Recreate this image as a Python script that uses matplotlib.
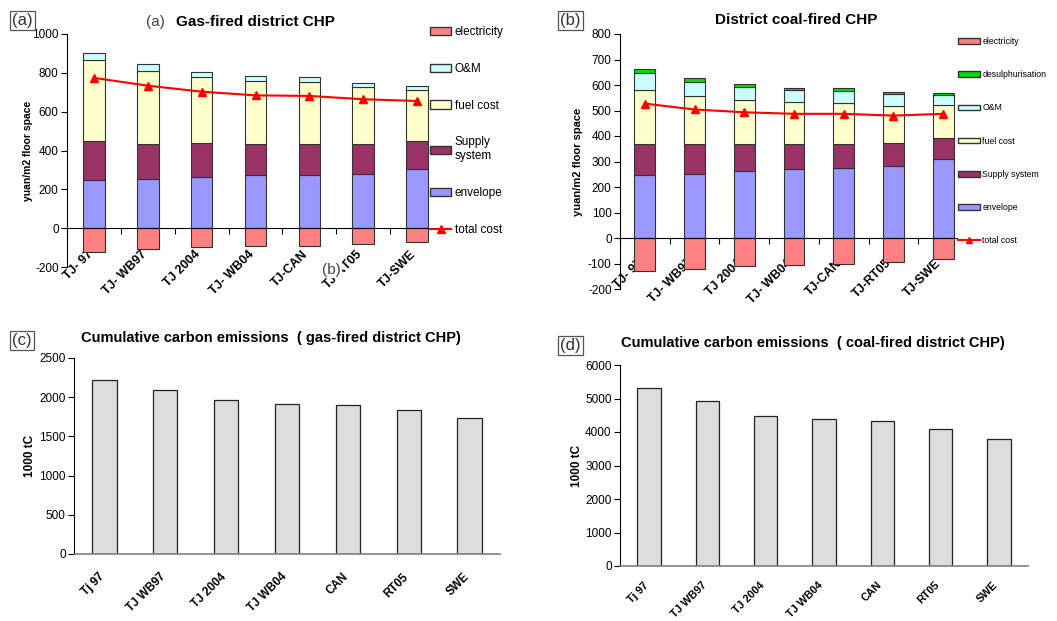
import numpy as np
import matplotlib
matplotlib.use("Agg")
import matplotlib.pyplot as plt
from matplotlib.patches import Patch
from matplotlib.lines import Line2D
from matplotlib.transforms import ScaledTranslation

plt.rcParams['font.family'] = ['Liberation Sans', 'DejaVu Sans']
plt.rcParams['axes.unicode_minus'] = False

# --- data --- #

cases_a = ["TJ- 97", "TJ- WB97", "TJ 2004", "TJ- WB04", "TJ-CAN", "TJ-RT05", "TJ-SWE"]
envelope_a = [250, 253, 262, 272, 272, 281, 307]
supply_a = [198, 183, 178, 162, 162, 153, 141]
fuel_a = [416, 374, 336, 325, 319, 292, 266]
om_a = [38, 33, 27, 25, 25, 24, 19]
electricity_a = [-121, -107, -95, -91, -91, -81, -72]
total_a = [774, 734, 703, 684, 681, 664, 655]

cases_b = ["TJ- 97", "TJ- WB97", "TJ 2004", "TJ- WB04", "TJ-CAN", "TJ-RT05", "TJ-SWE"]
envelope_b = [249, 252, 261, 269, 273, 281, 308]
supply_b = [121, 115, 109, 101, 97, 93, 84]
fuel_b = [211, 188, 173, 165, 161, 145, 131]
om_b = [66, 56, 48, 46, 45, 44, 38]
desulph_b = [14, 15, 11, 9, 12, 11, 9]
electricity_b = [-131, -121, -108, -105, -101, -93, -81]
total_b = [527, 504, 493, 487, 487, 480, 487]

cases_cd = ["Tj 97", "TJ WB97", "TJ 2004", "TJ WB04", "CAN", "RT05", "SWE"]
carbon_gas = [2223, 2087, 1963, 1912, 1900, 1831, 1729]
carbon_coal = [5324, 4917, 4490, 4381, 4321, 4083, 3795]

C_ENV = "#9999FF"
C_SUP = "#993366"
C_FUEL = "#FFFFCC"
C_OM = "#CCFFFF"
C_DES = "#00DD00"
C_ELEC = "#FF8080"
C_TOT = "#FF0000"
C_GREY = "#DDDDDD"

W, H = 1057, 621
fig = plt.figure(figsize=(W / 100, H / 100), dpi=100)


def px_axes(left, top, right, bottom):
    return fig.add_axes([left / W, 1 - bottom / H, (right - left) / W, (bottom - top) / H])


def shift_labels(ax, dx, dy):
    off = ScaledTranslation(dx / 100, dy / 100, fig.dpi_scale_trans)
    for lab in ax.get_xticklabels():
        lab.set_transform(lab.get_transform() + off)


def setup_cat_axis(ax, labels, size, dx, dy, boundary_ticks):
    x = np.arange(len(labels))
    ax.set_xlim(-0.5, len(labels) - 0.5)
    ax.set_xticks(x)
    ax.set_xticklabels(labels, rotation=45, ha="right", va="top",
                       rotation_mode="anchor", fontsize=size, fontweight="bold")
    ax.tick_params(axis="x", which="major", length=0, pad=0)
    if boundary_ticks:
        ax.set_xticks(np.arange(-0.5, len(labels), 1), minor=True)
        ax.tick_params(axis="x", which="minor", length=4, direction="out", width=0.8)
    shift_labels(ax, dx, dy)
    ax.spines["top"].set_visible(False)
    ax.spines["right"].set_visible(False)
    ax.tick_params(axis="y", length=4, width=0.8, labelsize=8.5, pad=2)


def stacked(ax, parts, colors, width):
    x = np.arange(len(parts[0]))
    bottom = np.zeros(len(x))
    for vals, col in zip(parts, colors):
        ax.bar(x, vals, width, bottom=bottom, color=col, edgecolor="#333333",
               linewidth=0.8, zorder=2)
        bottom = bottom + np.array(vals)


def box_label(x, y, s):
    fig.text(x / W, 1 - y / H, s, fontsize=12, ha="left", va="top", color="#333333",
             family=["Liberation Sans Narrow", "Liberation Sans", "DejaVu Sans"],
             bbox=dict(boxstyle="square,pad=0.12", facecolor="white",
                       edgecolor="#555555", linewidth=0.9), zorder=10)


# ---------------- (a) gas-fired ---------------- #

ax = px_axes(67, 34, 444, 267)
x = np.arange(len(cases_a))
stacked(ax, [envelope_a, supply_a, fuel_a, om_a], [C_ENV, C_SUP, C_FUEL, C_OM], 0.4)
ax.bar(x, electricity_a, 0.4, color=C_ELEC, edgecolor="#333333", linewidth=0.8, zorder=2)
ax.plot(x, total_a, color=C_TOT, lw=1.5, marker="^", ms=6, zorder=3)
ax.set_ylim(-200, 1000)
ax.set_yticks(np.arange(-200, 1001, 200))
ax.spines["bottom"].set_position(("data", 0))
setup_cat_axis(ax, cases_a, 9, -7, -20, True)
ax.set_ylabel("yuan/m2 floor space", fontsize=7.5, fontweight="bold")
ax.yaxis.set_label_coords(-0.09, 0.5)
fig.text(255 / W, 1 - 22 / H, "Gas-fired district CHP", fontsize=11, fontweight="bold",
         ha="center", va="center")
fig.text(155 / W, 1 - 22 / H, "(a)", fontsize=11, color="#444444", ha="center", va="center",
         family=["Liberation Sans Narrow", "Liberation Sans"])
fig.text(331 / W, 1 - 270 / H, "(b)", fontsize=11, color="#444444", ha="center", va="center",
         family=["Liberation Sans Narrow", "Liberation Sans"],
         bbox=dict(facecolor="white", edgecolor="none", pad=1), zorder=9)

handles = [Patch(facecolor=C_ELEC, edgecolor="#333333"),
           Patch(facecolor=C_OM, edgecolor="#333333"),
           Patch(facecolor=C_FUEL, edgecolor="#333333"),
           Patch(facecolor=C_SUP, edgecolor="#333333"),
           Patch(facecolor=C_ENV, edgecolor="#333333"),
           Line2D([], [], color=C_TOT, lw=1.5, marker="^", ms=6)]
names = ["electricity", "O&M", "fuel cost", "Supply\nsystem", "envelope", "total cost"]
fig.legend(handles, names, loc="upper left", bbox_to_anchor=(430 / W, 1 - 26 / H),
           fontsize=8.5, frameon=True, facecolor="white", edgecolor="none", framealpha=1,
           borderpad=0, borderaxespad=0, handlelength=1.8, handleheight=0.7,
           handletextpad=0.3, labelspacing=2.1)
box_label(12, 13, "(a)")

# ---------------- (b) coal-fired ---------------- #

ax = px_axes(620, 34, 968, 289)
x = np.arange(len(cases_b))
stacked(ax, [envelope_b, supply_b, fuel_b, om_b, desulph_b],
        [C_ENV, C_SUP, C_FUEL, C_OM, C_DES], 0.42)
ax.bar(x, electricity_b, 0.42, color=C_ELEC, edgecolor="#333333", linewidth=0.8, zorder=2)
ax.plot(x, total_b, color=C_TOT, lw=1.5, marker="^", ms=6, zorder=3)
ax.set_ylim(-200, 800)
ax.set_yticks(np.arange(-200, 801, 100))
ax.spines["bottom"].set_position(("data", 0))
setup_cat_axis(ax, cases_b, 9, -8, -19, True)
ax.set_ylabel("yuan/m2 floor space", fontsize=8, fontweight="bold")
ax.yaxis.set_label_coords(-0.105, 0.5)
fig.text(796 / W, 1 - 20 / H, "District coal-fired CHP", fontsize=11, fontweight="bold",
         ha="center", va="center")

handles = [Patch(facecolor=C_ELEC, edgecolor="#333333"),
           Patch(facecolor=C_DES, edgecolor="#333333"),
           Patch(facecolor=C_OM, edgecolor="#333333"),
           Patch(facecolor=C_FUEL, edgecolor="#333333"),
           Patch(facecolor=C_SUP, edgecolor="#333333"),
           Patch(facecolor=C_ENV, edgecolor="#333333"),
           Line2D([], [], color=C_TOT, lw=1.5, marker="^", ms=5)]
names = ["electricity", "desulphurisation", "O&M", "fuel cost", "Supply system",
         "envelope", "total cost"]
fig.legend(handles, names, loc="upper left", bbox_to_anchor=(958 / W, 1 - 37 / H),
           fontsize=6.3, frameon=True, facecolor="white", edgecolor="none", framealpha=1,
           borderpad=0, borderaxespad=0, handlelength=2.5, handleheight=0.6,
           handletextpad=0.3, labelspacing=2.77)
box_label(560, 13, "(b)")

# ---------------- (c) / (d) carbon emissions ---------------- #

for rect, vals, top, step, title, tpos, lab, lpos, yl, lsize, dy in [
        ((74, 358, 500, 554), carbon_gas, 2500, 500,
         "Cumulative carbon emissions  ( gas-fired district CHP)", (271, 338),
         "(c)", (12, 333), -0.09, 8.5, -17),
        ((620, 365, 1028, 566), carbon_coal, 6000, 1000,
         "Cumulative carbon emissions  ( coal-fired district CHP)", (813, 343),
         "(d)", (560, 338), -0.09, 7.8, -14)]:
    ax = px_axes(*rect)
    x = np.arange(len(cases_cd))
    ax.bar(x, vals, 0.4, color=C_GREY, edgecolor="#222222", linewidth=0.9, zorder=2)
    ax.set_ylim(0, top)
    ax.set_yticks(np.arange(0, top + 1, step))
    setup_cat_axis(ax, cases_cd, lsize, -6, dy, False)
    ax.spines["bottom"].set_color("#808080")
    ax.spines["bottom"].set_linewidth(1.2)
    ax.set_ylabel("1000 tC", fontsize=8.5, fontweight="bold")
    ax.yaxis.set_label_coords(yl, 0.5)
    fig.text(tpos[0] / W, 1 - tpos[1] / H, title, fontsize=10.5, fontweight="bold",
             ha="center", va="center")
    box_label(lpos[0], lpos[1], lab)

fig.savefig("out.png", dpi=100)
